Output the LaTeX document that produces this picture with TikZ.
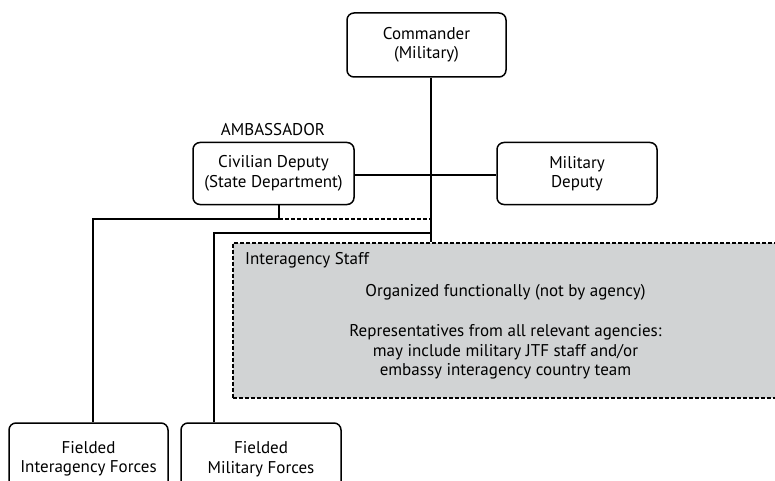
\documentclass[tikz,border=0pt]{standalone}
\usepackage{fontspec}
\setmainfont{PT Sans}
\begin{document}
\begin{tikzpicture}[x=1pt,y=-1pt,
  txt/.style={font=\fontsize{17}{19.5}\selectfont, align=center, inner sep=0pt},
  box/.style={txt, draw, line width=1.5pt, rounded corners=7pt},
  conn/.style={line width=1.5pt},
  dconn/.style={line width=1.5pt, dash pattern=on 4pt off 2pt},
  staff/.style={draw, line width=1.5pt, dash pattern=on 4pt off 2pt, fill=staffgray, inner sep=0pt}]
\definecolor{staffgray}{RGB}{209,211,212}
\useasboundingbox (0,0) rectangle (775,481);
\clip (0,0) rectangle (775,481);
\fill[white] (0,0) rectangle (775,481);

\node[staff, minimum width=552pt, minimum height=155pt] (staffbox) at (509,320.5) {};
\node[txt, anchor=west] (stafftitle) at (245,260) {Interagency Staff};
\node[txt] (org) at (505.5,292) {Organized functionally (not by agency)};
\node[txt] (reps) at (505.5,352) {Representatives from all relevant agencies:\\may include military JTF staff and/or\\embassy interagency country team};

\node[box, minimum width=159pt, minimum height=64pt] (cmd) at (426.5,45) {Commander\\(Military)};
\node[box, minimum width=161pt, minimum height=62pt] (civ) at (273.5,173.5) {Civilian Deputy\\(State Department)};
\node[txt] (amb) at (273,130) {AMBASSADOR};
\node[box, minimum width=160pt, minimum height=62pt] (mil) at (577,173.5) {Military\\Deputy};
\node[box, minimum width=159pt, minimum height=72pt] (fint) at (88.5,459) {Fielded\\Interagency Forces};
\node[box, minimum width=160pt, minimum height=72pt] (fmil) at (261,459) {Fielded\\Military Forces};

\coordinate (midline) at (431,175);
\coordinate (spineA) at (431,219);
\coordinate (spineB) at (431,233);
\coordinate (civdrop) at (279,219);
\coordinate (leftA) at (93,219);
\coordinate (leftB) at (214,233);

\draw[conn] (cmd.south -| spineB) -- (staffbox.north -| spineB);
\draw[conn] (civ.east |- midline) -- (mil.west |- midline);
\draw[conn] (civ.south -| civdrop) -- (civdrop) -- (leftA) -- (fint.north -| leftA);
\draw[dconn] (civdrop) -- (spineA);
\draw[conn] (spineB) -- (leftB) -- (fmil.north -| leftB);
\end{tikzpicture}
\end{document}
